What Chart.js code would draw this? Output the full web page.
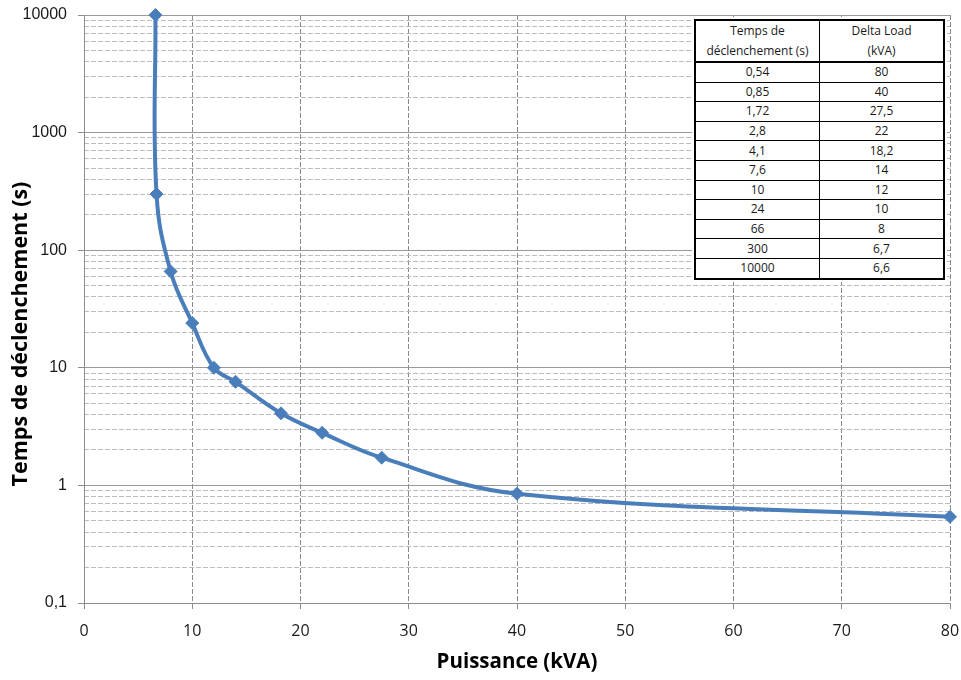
<!DOCTYPE html>
<html>
<head>
<meta charset="utf-8">
<script src="https://cdn.jsdelivr.net/npm/chart.js@4.4.1/dist/chart.umd.min.js"></script>
<style>
  body { margin: 0; background: #fff; }
  #wrap { position: relative; width: 961px; height: 680px; }
  #tableBox { position: absolute; left: 692px; top: 17px; padding: 2px; background: #fff; }
  #tableBox table { border-collapse: collapse; border: 2px solid #000; width: 251px;
    font-family: 'Open Sans', sans-serif; font-size: 12px; color: #1a1a1a; }
  #tableBox th, #tableBox td { border: 1px solid #000; text-align: center; padding: 0;
    font-weight: normal; line-height: 16px; width: 50%; }
  #tableBox th { height: 39px; line-height: 20px; border-bottom-width: 2px; }
  #tableBox td { height: 18.6px; }
</style>
</head>
<body>
<div id="wrap">
  <canvas id="chart" width="961" height="680"></canvas>
  <div id="tableBox"><table id="valueTable"></table></div>
</div>
<script>
const kva = [80, 40, 27.5, 22, 18.2, 14, 12, 10, 8, 6.7, 6.6];
const seconds = [0.54, 0.85, 1.72, 2.8, 4.1, 7.6, 10, 24, 66, 300, 10000];

// axis ticks
const xTicks = [0, 10, 20, 30, 40, 50, 60, 70, 80];
const yDecades = [0.1, 1, 10, 100, 1000, 10000];
const yMinorSteps = [2, 3, 4, 5, 6, 7, 8, 9];

const tableHeaders = ['Temps de<br>déclenchement (s)', 'Delta Load<br>(kVA)'];
const yTitle = 'Temps de déclenchement (s)';
const xTitle = 'Puissance (kVA)';

const blue = '#4a7ebb';

// french decimal comma
const frNum = (v) => String(v).replace('.', ',');

// fill the table from the arrays
const table = document.getElementById('valueTable');
let html = '<tr>' + tableHeaders.map((h) => '<th>' + h + '</th>').join('') + '</tr>';
seconds.forEach((s, i) => {
  html += '<tr><td>' + frNum(s) + '</td><td>' + frNum(kva[i]) + '</td></tr>';
});
table.innerHTML = html;

// 1..9 per decade, majors at the powers of ten
function buildLogTicks(scale) {
  const ticks = [];
  yDecades.forEach((d, i) => {
    ticks.push({ value: d, major: true });
    if (i < yDecades.length - 1) {
      yMinorSteps.forEach((m) => ticks.push({ value: +(d * m).toPrecision(3), major: false }));
    }
  });
  scale.ticks = ticks;
}

// keep the plot area where Excel put it, labels may overflow
function noEdgePadding(scale) {
  scale.paddingTop = 0;
  scale.paddingBottom = 0;
  scale.paddingLeft = 0;
  scale.paddingRight = 0;
}

// y title is drawn by hand, Excel centres it lower than the plot area
const yTitlePlugin = {
  id: 'yTitle',
  afterDraw(chart) {
    const ctx = chart.ctx;
    ctx.save();
    ctx.translate(21, 334);
    ctx.rotate(-Math.PI / 2);
    ctx.font = 'bold 21.5px "Open Sans"';
    ctx.fillStyle = '#000';
    ctx.textAlign = 'center';
    ctx.textBaseline = 'middle';
    ctx.fillText(yTitle, 0, 0);
    ctx.restore();
  },
};

const ctx = document.getElementById('chart').getContext('2d');
new Chart(ctx, {
  type: 'scatter',
  data: {
    datasets: [
      {
        label: 'Delta Load',
        data: kva.map((x, i) => ({ x: x, y: seconds[i] })),
        showLine: true,
        borderColor: blue,
        backgroundColor: blue,
        borderWidth: 4,
        tension: 0.4,
        pointStyle: 'rectRot',
        pointRadius: 6.5,
        pointBorderWidth: 1,
        pointBorderColor: blue,
        clip: false,
      },
    ],
  },
  options: {
    responsive: false,
    animation: false,
    layout: { autoPadding: false, padding: { top: 15, right: 11, left: 0, bottom: 0 } },
    plugins: {
      legend: { display: false },
      tooltip: { enabled: false },
    },
    scales: {
      x: {
        type: 'linear',
        min: 0,
        max: 80,
        afterBuildTicks: (scale) => { scale.ticks = xTicks.map((v) => ({ value: v })); },
        afterFit: (scale) => { scale.height = 77; noEdgePadding(scale); },
        ticks: {
          padding: 13,
          color: '#1a1a1a',
          font: { family: 'Open Sans', size: 16 },
        },
        grid: {
          color: '#8a8a8a',
          tickLength: 6,
          tickColor: '#8c8c8c',
        },
        border: { color: '#8c8c8c', width: 1, dash: [5, 2] },
        title: {
          display: true,
          text: xTitle,
          color: '#000',
          font: { family: 'Open Sans', size: 20.5, weight: 'bold' },
          padding: { top: 0, bottom: 6 },
        },
      },
      y: {
        type: 'logarithmic',
        position: 'left',
        min: 0.1,
        max: 10000,
        afterBuildTicks: buildLogTicks,
        afterFit: (scale) => { scale.width = 84; noEdgePadding(scale); },
        ticks: {
          autoSkip: false,
          padding: 11,
          color: '#1a1a1a',
          font: { family: 'Liberation Sans', size: 16 },
          callback: (v) => (yDecades.includes(v) ? frNum(v) : ''),
        },
        grid: {
          color: (c) => (c.tick && c.tick.major ? '#999999' : 'transparent'),
          tickLength: 6,
          tickColor: (c) => (c.tick && c.tick.major ? '#8c8c8c' : 'transparent'),
        },
        border: { color: '#8c8c8c', width: 1 },
      },
      // second log axis only for the dashed minor lines
      yMinor: {
        type: 'logarithmic',
        position: 'left',
        min: 0.1,
        max: 10000,
        afterBuildTicks: buildLogTicks,
        afterFit: (scale) => { scale.width = 0; noEdgePadding(scale); },
        ticks: { display: false, autoSkip: false },
        grid: {
          color: (c) => (c.tick && c.tick.major ? 'transparent' : '#bcbcbc'),
          drawTicks: false,
        },
        border: { display: false, dash: [5, 2] },
      },
    },
  },
  plugins: [yTitlePlugin],
});
</script>
</body>
</html>
